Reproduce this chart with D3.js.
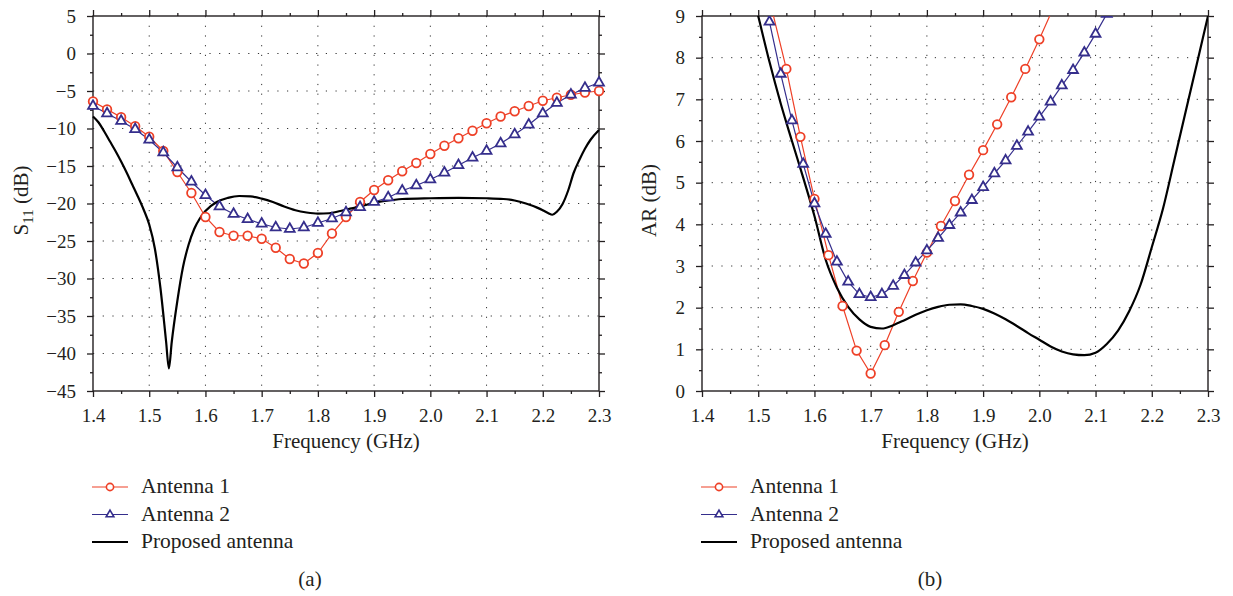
<!DOCTYPE html>
<html>
<head>
<meta charset="utf-8">
<script src="https://cdn.jsdelivr.net/npm/d3@7"></script>
<style>
  body { margin: 0; background: #fff; }
  svg text { fill: #231f20; }
</style>
</head>
<body>
<div id="vis"></div>
<script>
// ---- (a) S11 ----
var freqS11 = [1.400,1.425,1.450,1.475,1.500,1.525,1.550,1.575,1.600,1.625,1.650,1.675,1.700,1.725,1.750,1.775,1.800,1.825,1.850,1.875,1.900,1.925,1.950,1.975,2.000,2.025,2.050,2.075,2.100,2.125,2.150,2.175,2.200,2.225,2.250,2.275,2.300];
var s11Ant1 = [-6.4,-7.45,-8.5,-9.7,-11.1,-13.0,-15.8,-18.6,-21.8,-23.8,-24.3,-24.3,-24.7,-25.9,-27.4,-28.0,-26.6,-24.0,-21.8,-19.8,-18.2,-16.9,-15.7,-14.6,-13.4,-12.3,-11.3,-10.3,-9.3,-8.4,-7.7,-7.0,-6.3,-5.9,-5.5,-5.2,-5.0];
var s11Ant2 = [-7.0,-8.0,-9.0,-10.1,-11.5,-13.2,-15.2,-17.1,-18.9,-20.4,-21.4,-22.1,-22.7,-23.2,-23.4,-23.2,-22.6,-22.0,-21.2,-20.5,-19.8,-19.2,-18.3,-17.6,-16.8,-15.9,-14.9,-13.9,-13.0,-12.0,-10.8,-9.5,-8.0,-6.6,-5.5,-4.6,-3.9];
var freqS11P = [1.40,1.41,1.42,1.43,1.44,1.45,1.46,1.47,1.48,1.49,1.50,1.51,1.52,1.53,1.535,1.54,1.55,1.56,1.57,1.58,1.59,1.60,1.62,1.64,1.66,1.68,1.70,1.72,1.74,1.76,1.78,1.80,1.82,1.84,1.86,1.88,1.90,1.92,1.95,2.00,2.05,2.10,2.13,2.15,2.17,2.19,2.20,2.21,2.217,2.225,2.235,2.245,2.255,2.265,2.275,2.285,2.30];
var s11Prop = [-8.4,-9.2,-10.4,-11.7,-13.0,-14.4,-15.9,-17.5,-19.1,-20.8,-22.8,-26.0,-31.3,-38.4,-42.0,-38.5,-33.0,-28.5,-25.5,-23.4,-22.0,-21.0,-19.8,-19.25,-19.0,-19.05,-19.35,-19.8,-20.4,-20.9,-21.2,-21.35,-21.3,-21.0,-20.65,-20.3,-19.9,-19.65,-19.4,-19.3,-19.25,-19.3,-19.4,-19.6,-20.0,-20.55,-20.9,-21.3,-21.5,-21.1,-20.1,-18.3,-15.9,-14.2,-12.7,-11.5,-10.2];

// ---- (b) AR ----
var freqAR1 = [1.525,1.550,1.575,1.600,1.625,1.650,1.675,1.700,1.725,1.750,1.775,1.800,1.825,1.850,1.875,1.900,1.925,1.950,1.975,2.000,2.025];
var arAnt1 = [9.12,7.73,6.10,4.61,3.26,2.04,0.97,0.42,1.10,1.90,2.64,3.32,3.96,4.56,5.19,5.78,6.40,7.05,7.73,8.44,9.2];
var freqAR2 = [1.50,1.52,1.54,1.56,1.58,1.60,1.62,1.64,1.66,1.68,1.70,1.72,1.74,1.76,1.78,1.80,1.82,1.84,1.86,1.88,1.90,1.92,1.94,1.96,1.98,2.00,2.02,2.04,2.06,2.08,2.10,2.12,2.14];
var arAnt2 = [10.2,8.86,7.61,6.49,5.45,4.50,3.77,3.10,2.62,2.32,2.25,2.32,2.52,2.78,3.08,3.37,3.67,3.98,4.28,4.58,4.89,5.22,5.53,5.88,6.22,6.58,6.94,7.33,7.70,8.12,8.57,9.05,9.5];
var freqARP = [1.48,1.50,1.52,1.54,1.56,1.58,1.60,1.62,1.64,1.66,1.68,1.70,1.72,1.74,1.76,1.78,1.80,1.82,1.84,1.86,1.88,1.90,1.92,1.94,1.96,1.98,2.00,2.02,2.04,2.06,2.08,2.10,2.12,2.14,2.16,2.18,2.20,2.22,2.24,2.26,2.28,2.30];
var arProp = [10.1,9.0,7.9,6.9,6.0,5.12,4.2,3.15,2.48,2.02,1.72,1.54,1.50,1.58,1.70,1.83,1.94,2.02,2.07,2.08,2.04,1.97,1.86,1.72,1.56,1.39,1.23,1.07,0.95,0.88,0.86,0.92,1.13,1.45,1.92,2.55,3.45,4.38,5.53,6.69,7.84,9.0];

var xTicks = [1.4,1.5,1.6,1.7,1.8,1.9,2.0,2.1,2.2,2.3];
var xMinor = [1.45,1.55,1.65,1.75,1.85,1.95,2.05,2.15,2.25];
var s11Ticks = [5,0,-5,-10,-15,-20,-25,-30,-35,-40,-45];
var s11Minor = [2.5,-2.5,-7.5,-12.5,-17.5,-22.5,-27.5,-32.5,-37.5,-42.5];
var arTicks = [0,1,2,3,4,5,6,7,8,9];
var arMinor = [0.5,1.5,2.5,3.5,4.5,5.5,6.5,7.5,8.5];
var seriesNames = ["Antenna 1", "Antenna 2", "Proposed antenna"];

var red = '#ee4027', blue = '#352e8c', ink = '#231f20';
var serif = "'Liberation Serif'";

var svg = d3.select('#vis').append('svg')
  .attr('width', 1233).attr('height', 596);

function label(sel, size) {
  return sel.style('font-family', serif).style('font-size', size + 'px');
}

function panel(opt) {
  var w = 506, h = 375;
  var g = svg.append('g').attr('transform', 'translate(' + opt.left + ',' + opt.top + ')');
  var x = d3.scaleLinear().domain([1.4, 2.3]).range([0, w]);
  var y = d3.scaleLinear().domain(opt.yDomain).range([h, 0]);

  // dotted grid on the major ticks
  g.append('g').selectAll('line.gx')
    .data(xTicks.slice(1, -1)).enter().append('line')
    .attr('x1', d => x(d)).attr('x2', d => x(d))
    .attr('y1', 0).attr('y2', h)
    .attr('stroke', '#333').attr('stroke-width', 1).attr('stroke-dasharray', '1.2,8.5');
  g.append('g').selectAll('line.gy')
    .data(opt.yTicks.filter(d => d != opt.yDomain[0] && d != opt.yDomain[1])).enter().append('line')
    .attr('x1', 0).attr('x2', w)
    .attr('y1', d => y(d)).attr('y2', d => y(d))
    .attr('stroke', '#333').attr('stroke-width', 1).attr('stroke-dasharray', '1.2,8.5');

  function axis(gen, tr, vals, size, fmt, pad) {
    var a = g.append('g').attr('transform', tr).style('color', ink)
      .call(gen.tickValues(vals).tickSize(size).tickSizeOuter(0).tickPadding(pad || 3).tickFormat(fmt));
    a.attr('font-family', null).attr('font-size', null);
    a.select('.domain').remove();
    a.selectAll('.tick line').attr('stroke-width', 1.3);
    label(a.selectAll('.tick text'), 19);
    return a;
  }
  axis(d3.axisBottom(x), 'translate(0,' + h + ')', xTicks, 6, d3.format('.1f'), 12);
  axis(d3.axisBottom(x), 'translate(0,' + h + ')', xMinor, 3, '');
  axis(d3.axisTop(x), null, xTicks, 6, '');
  axis(d3.axisTop(x), null, xMinor, 3, '');
  axis(d3.axisLeft(y), null, opt.yTicks, 6, opt.yFormat, 11);
  axis(d3.axisLeft(y), null, opt.yMinor, 3, '');
  axis(d3.axisRight(y), 'translate(' + w + ',0)', opt.yTicks, 6, '');
  axis(d3.axisRight(y), 'translate(' + w + ',0)', opt.yMinor, 3, '');

  g.append('rect').attr('width', w).attr('height', h)
    .attr('fill', 'none').attr('stroke', ink).attr('stroke-width', 1.4);

  var clipId = 'clip' + opt.left;
  g.append('clipPath').attr('id', clipId).append('rect')
    .attr('x', opt.clip ? 0 : -20).attr('y', opt.clip ? 0 : -20)
    .attr('width', opt.clip ? w : w + 40).attr('height', opt.clip ? h : h + 40);
  var plot = g.append('g').attr('clip-path', 'url(#' + clipId + ')');

  var line = d3.line().x(d => x(d[0])).y(d => y(d[1]));

  plot.append('path').datum(d3.zip(opt.f1, opt.v1))
    .attr('d', line).attr('fill', 'none').attr('stroke', red).attr('stroke-width', 1.2);
  plot.append('path').datum(d3.zip(opt.f2, opt.v2))
    .attr('d', line).attr('fill', 'none').attr('stroke', blue).attr('stroke-width', 1.2);
  plot.append('path').datum(d3.zip(opt.fp, opt.vp))
    .attr('d', line.curve(d3.curveMonotoneX)).attr('fill', 'none').attr('stroke', '#000').attr('stroke-width', 2.2);

  plot.selectAll('circle.m').data(d3.zip(opt.f1, opt.v1)).enter().append('circle')
    .attr('cx', d => x(d[0])).attr('cy', d => y(d[1])).attr('r', 4.3)
    .attr('fill', '#fff').attr('stroke', red).attr('stroke-width', 1.8);
  var tri = d3.symbol().type(d3.symbolTriangle).size(42);
  plot.selectAll('path.t').data(d3.zip(opt.f2, opt.v2)).enter().append('path')
    .attr('d', tri).attr('transform', d => 'translate(' + x(d[0]) + ',' + y(d[1]) + ')')
    .attr('fill', '#fff').attr('stroke', blue).attr('stroke-width', 1.8);

  // axis titles
  label(svg.append('text'), 21).attr('x', opt.left + w / 2).attr('y', opt.top + h + 57)
    .attr('text-anchor', 'middle').text('Frequency (GHz)');
  var yt = label(svg.append('text'), 21)
    .attr('transform', 'translate(' + opt.ytX + ',' + (opt.top + h / 2 - 3) + ') rotate(-90)')
    .attr('text-anchor', 'middle');
  opt.yTitle(yt);

  // legend
  var lg = svg.append('g').attr('transform', 'translate(' + opt.legX + ',0)');
  var rows = [487, 514.5, 542];
  var cols = [red, blue, '#000'];
  rows.forEach(function (ry, i) {
    lg.append('line').attr('x1', 0).attr('x2', 36).attr('y1', ry).attr('y2', ry)
      .attr('stroke', cols[i]).attr('stroke-width', i == 2 ? 2.2 : 1.2);
    label(lg.append('text'), 21.5).attr('x', 49).attr('y', ry + 6).text(seriesNames[i]);
  });
  lg.append('circle').attr('cx', 18).attr('cy', rows[0]).attr('r', 3.6)
    .attr('fill', '#fff').attr('stroke', red).attr('stroke-width', 1.6);
  lg.append('path').attr('d', d3.symbol().type(d3.symbolTriangle).size(26))
    .attr('transform', 'translate(18,' + rows[1] + ')')
    .attr('fill', '#fff').attr('stroke', blue).attr('stroke-width', 1.6);

  label(svg.append('text'), 21).attr('x', opt.capX).attr('y', 586)
    .attr('text-anchor', 'middle').text(opt.caption);
}

panel({
  left: 93, top: 16, yDomain: [-45, 5], yTicks: s11Ticks, yMinor: s11Minor,
  yFormat: d3.format('d'), clip: false,
  f1: freqS11, v1: s11Ant1, f2: freqS11, v2: s11Ant2, fp: freqS11P, vp: s11Prop,
  ytX: 28,
  yTitle: function (t) {
    t.append('tspan').text('S');
    t.append('tspan').attr('dy', 5).style('font-size', '15px').text('11');
    t.append('tspan').attr('dy', -5).text(' (dB)');
  },
  legX: 92, capX: 310, caption: '(a)'
});

panel({
  left: 702, top: 16, yDomain: [0, 9], yTicks: arTicks, yMinor: arMinor,
  yFormat: d3.format('d'), clip: true,
  f1: freqAR1, v1: arAnt1, f2: freqAR2, v2: arAnt2, fp: freqARP, vp: arProp,
  ytX: 656,
  yTitle: function (t) { t.text('AR (dB)'); },
  legX: 701, capX: 930, caption: '(b)'
});
</script>
</body>
</html>
